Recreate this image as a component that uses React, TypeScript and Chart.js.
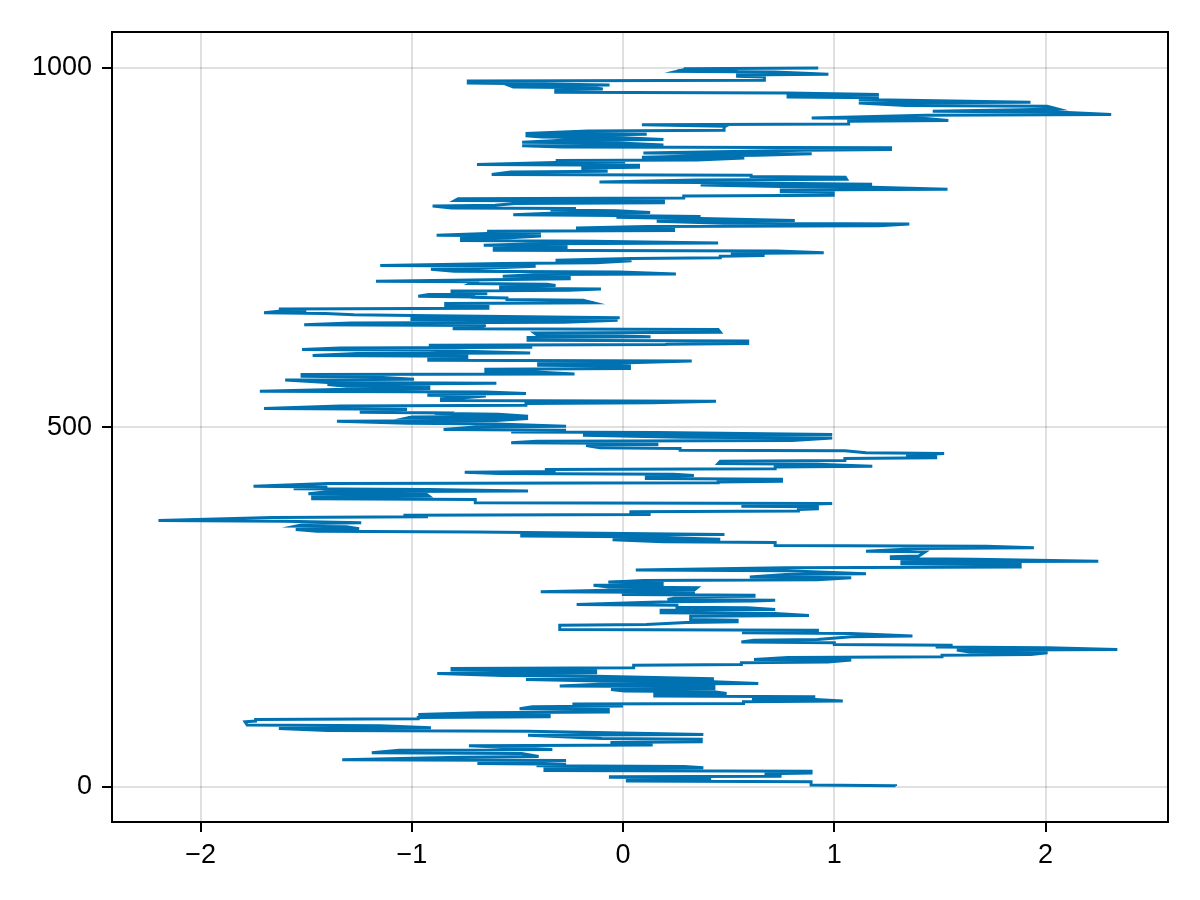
import React, { useEffect, useRef } from "react";
import { Chart, registerables } from "chart.js";

Chart.register(...registerables);

const xTickValues = [-2, -1, 0, 1, 2];
const yTickValues = [0, 500, 1000];
const xLimits = [-2.42, 2.58];
const yLimits = [-49, 1050];
const lineColor = "#0072B2";

// first point of the walk: [step, value]
const walkStart = [1, 1.29];

// horizontal strokes of the walk: [step, one end, other end]
const walkStrokes0to250 = [
  [2, 1.29, 0.89], [7.4, 0.89, 0.02], [11.1, 0.02, 0.41], [12.9, -0.06, 0.41], [14.3, -0.06, 0.75],
  [18.5, 0.67, 0.89], [22.2, -0.37, 0.89], [25.9, -0.37, 0.38], [28.7, -0.41, 0.29], [32, -0.69, -0.27],
  [37, -1.33, -0.27], [41.7, -0.77, -0.4], [46.8, -1.19, -0.48], [51.4, -1.06, -0.335], [57.5, -0.73, 0.14],
  [62, -0.06, 0.37], [66.7, -0.1, 0.37], [72.3, -0.45, 0.38], [77.9, -1.4, -0.45], [81.6, -1.63, -0.91],
  [85.3, -1.78, -1.15], [90.9, -1.79, -1.74], [94.2, -1.74, -0.97], [96.9, -0.97, -0.35], [100.2, -0.97, -0.35],
  [103.4, -0.685, -0.07], [108.1, -0.49, -0.07], [111.8, -0.43, 0.0], [115.5, -0.24, 0.57], [118.7, 0.57, 1.04],
  [122, 0.61, 0.91], [125.7, 0.15, 0.91], [129.4, 0.15, 0.49], [132.6, 0.006, 0.43], [135.9, -0.057, 0.43],
  [139.6, -0.3, 0.43], [143.3, -0.11, 0.64], [146.5, -0.11, 0.43], [149.8, -0.46, 0.43], [154.4, -0.57, -0.13],
  [158.1, -0.88, -0.13], [161.8, -0.81, -0.13], [165.1, -0.81, 0.05], [169.7, 0.05, 0.56], [173, 0.56, 0.97],
  [176.7, 0.62, 1.08], [180.4, 0.78, 1.51], [183.6, 1.51, 1.93], [186.9, 1.64, 2.01], [190.6, 1.58, 2.34],
  [193.8, 1.48, 2.01], [197.5, 1.0, 1.56], [200.8, 0.56, 1.0], [204.5, 0.62, 0.92], [209.1, 1.08, 1.37],
  [213.8, 0.57, 1.08], [217, 0.57, 0.92], [218.4, -0.3, 0.92], [225.3, -0.3, 0.11], [229, 0.3, 0.54],
  [232.3, 0.32, 0.54], [237.8, 0.32, 0.88], [241.6, 0.18, 0.72], [246.2, 0.18, 0.72], [249.4, 0.255, 0.59],
];

const walkStrokes250to500 = [
  [253.1, -0.22, 0.255], [257.8, 0.21, 0.62], [260.1, 0.21, 0.72], [264.7, 0.28, 0.62], [267, -0.006, 0.62],
  [270.8, -0.39, 0.34], [274, -0.07, 0.34], [277.3, -0.07, 0.35], [281, -0.14, 0.185], [284.2, -0.07, 0.185],
  [287.4, 0.096, 0.92], [291.2, 0.6, 1.08], [295.8, 0.77, 1.15], [300.9, 0.06, 0.77], [305.1, 0.77, 1.88],
  [309.7, 1.32, 1.88], [313.4, 1.32, 2.25], [317.1, 1.27, 1.66], [320.4, 1.27, 1.4], [327.3, 1.15, 1.43],
  [332, 1.4, 1.945], [335.2, 0.72, 1.72], [340.3, 0.19, 0.72], [344, -0.05, 0.46], [348.2, -0.48, 0.05],
  [350.5, -0.48, 0.48], [355.1, -1.45, -0.7], [358.4, -1.55, -1.25], [362.1, -1.55, -1.31], [366.7, -1.49, -1.24],
  [370, -2.2, -1.6], [375, -1.66, -0.924], [378.3, -1.04, 0.13], [383, 0.03, 0.83], [386.2, 0.83, 0.92],
  [389.9, 0.56, 0.92], [394.5, -0.7, 0.99], [400.1, -1.47, -0.7], [403.8, -1.47, -0.92], [407, -1.49, -0.93],
  [410.8, -1.4, -0.45], [414, -1.56, -0.92], [417.7, -1.75, -1.4], [422.3, -1.4, 0.45], [424.6, 0.45, 0.75],
  [428.4, 0.11, 0.75], [432.5, 0.11, 0.335], [435.3, -0.59, 0.24], [438.1, -0.75, -0.32], [441.8, -0.37, 0.72],
  [445.5, 0.72, 1.18], [449.2, 0.45, 0.92], [453.4, 0.46, 1.05], [457.1, 1.05, 1.48], [460.3, 1.34, 1.48],
  [464.1, 1.15, 1.52], [467.8, 0.27, 1.05], [471, -0.11, 0.27], [475.2, -0.175, 0.16], [478, -0.53, 0.16],
  [481.2, -0.41, 0.8], [485.8, 0.28, 0.99], [489.5, -0.19, 0.99], [493.2, -0.53, 0.16], [496.5, -0.85, -0.27],
];

const walkStrokes500to750 = [
  [501.1, -0.7, -0.27], [505.3, -1.02, -0.6], [509, -1.355, -0.6], [512.7, -1.02, -0.45], [515, -1.0, -0.45],
  [518.7, -0.85, -0.59], [520.6, -1.24, -0.84], [524.3, -1.24, -1.03], [525.7, -1.7, -1.03], [530.3, -1.34, -0.46],
  [533.6, -0.46, 0.14], [536.8, -0.86, 0.44], [540.5, -0.86, -0.77], [544.2, -0.92, -0.65], [546.6, -0.92, -0.46],
  [549.8, -1.72, -0.65], [553.5, -1.31, -0.92], [556.7, -1.31, -0.92], [560, -1.4, -0.92], [561.9, -1.4, -0.6],
  [566.5, -1.6, -0.99], [570.7, -1.52, -1.18], [573.9, -1.52, -0.23], [577.6, -0.65, -0.41], [581.3, -0.65, 0.03],
  [586, -0.4, 0.03], [589.2, -0.4, -0.016], [592.9, -0.92, 0.325], [596.2, -0.92, -0.74], [599.4, -1.47, -0.74],
  [603.1, -1.26, -0.44], [607.7, -1.52, -0.92], [611, -1.34, -0.43], [614.7, -0.92, 0.2], [616.2, 0.21, 0.59],
  [620.8, -0.45, 0.59], [625.4, -0.45, 0.13], [628.7, -0.41, -0.175], [631.9, -0.42, 0.46], [636.6, -0.8, 0.45],
  [640.3, -0.8, -0.67], [642.1, -1.51, -0.65], [645.8, -1.29, -0.28], [649.5, -1.0, -0.026], [651.9, -1.0, -0.016],
  [656, -1.275, -1.0], [658.8, -1.7, -1.41], [662, -1.63, -1.5], [665.3, -1.63, -0.64], [669, -0.84, -0.64],
  [672.7, -0.84, -0.14], [677.4, -0.55, -0.19], [680.6, -0.72, -0.55], [682, -0.97, -0.7], [685.2, -0.92, -0.65],
  [688.5, -0.81, -0.65], [690.3, -0.81, -0.255], [693.1, -0.58, -0.105], [696.8, -0.58, -0.32], [699.6, -0.72, -0.36],
  [702.9, -1.17, -0.7], [706.1, -0.54, -0.255], [709.8, -0.57, -0.255], [713, -0.4, 0.25], [716.8, -0.8, -0.016],
  [720.5, -0.91, -0.685], [724.6, -1.15, -0.414], [728.4, -0.57, -0.128], [732.1, -0.32, 0.04], [735.3, 0.04, 0.46],
  [738.6, 0.46, 0.67], [742.3, 0.51, 0.95], [746, -0.61, 0.73], [749.2, -0.61, -0.27],
];

const walkStrokes750to1000 = [
  [752.9, -0.66, -0.27], [756.1, -0.405, 0.45], [759.4, -0.765, -0.143], [763.1, -0.765, -0.536], [766.8, -0.883, -0.389],
  [770.1, -0.644, -0.389], [773.3, -0.644, 0.239], [777, -0.223, 0.239], [779.8, 0.112, 1.211], [783.5, 0.478, 1.355],
  [787.2, 0.159, 0.813], [790.9, 0.159, 0.367], [792.8, -0.032, 0.367], [795.1, -0.52, -0.032], [798.3, -0.344, 0.128],
  [802, -0.344, -0.032], [804.8, -0.813, -0.223], [808.5, -0.902, -0.606], [811.8, -0.51, 0.191], [815, -0.797, 0.191],
  [818.7, -0.781, 0.287], [822.4, 0.287, 0.995], [827.1, 0.749, 0.995], [830.8, 0.749, 1.536], [834.5, 0.749, 1.179],
  [837.7, 0.367, 1.179], [841, -0.112, 0.367], [844.7, 0.351, 1.058], [848.4, 0.606, 1.052], [851.2, -0.622, 0.606],
  [855.8, -0.532, -0.08], [859.1, -0.191, -0.08], [861.4, -0.191, 0.073], [865.1, -0.692, 0.073], [868.8, -0.319, 0.01],
  [871.6, -0.319, 0.351], [875.3, 0.089, 0.574], [878.1, 0.351, 0.638], [881.3, 0.096, 0.893], [885.9, 0.861, 1.266],
  [889.6, -0.287, 1.266], [892.4, -0.478, 0.191], [896.1, -0.478, -0.016], [899.8, -0.287, 0.191], [903.5, -0.383, 0.0],
  [906.3, -0.462, -0.128], [908.2, -0.462, 0.112], [912.8, -0.166, 0.478], [918.4, 0.478, 0.485], [921.6, 0.089, 1.068],
  [926.3, 1.068, 1.54], [930, 0.893, 1.434], [934.6, 1.434, 2.311], [939.2, 1.466, 2.056], [942.5, 1.881, 2.056],
  [947.1, 1.339, 2.008], [951.8, 1.116, 1.929], [955.5, 1.116, 1.339], [959.2, 0.781, 1.211], [962.4, 0.781, 1.211],
  [965.7, -0.319, 0.781], [970.3, -0.319, -0.096], [973.1, -0.52, -0.143], [975.9, -0.536, -0.064], [978.6, -0.733, -0.446],
  [982.4, -0.733, 0.669], [987.9, 0.542, 0.669], [990.7, 0.542, 0.972], [994.9, 0.255, 0.717], [998.1, 0.287, 0.542],
  [999.4, 0.287, 0.924],
];

function buildPath() {
  const strokes = [
    ...walkStrokes0to250,
    ...walkStrokes250to500,
    ...walkStrokes500to750,
    ...walkStrokes750to1000,
  ];
  const pts: { x: number; y: number }[] = [{ x: walkStart[1], y: walkStart[0] }];
  let prev = walkStart[1];
  for (const [y, a, b] of strokes) {
    const near = Math.abs(prev - a) <= Math.abs(prev - b) ? a : b;
    const far = near === a ? b : a;
    pts.push({ x: near, y: y - 0.5 });
    pts.push({ x: far, y: y + 0.5 });
    prev = far;
  }
  return pts;
}

const fmt = (v: number) => (v < 0 ? "\u2212" + Math.abs(v) : String(v));

const framePlugin = {
  id: "frame",
  afterDraw(chart: any) {
    const { ctx, chartArea } = chart;
    ctx.save();
    ctx.strokeStyle = "#000";
    ctx.lineWidth = 2;
    ctx.strokeRect(chartArea.left, chartArea.top, chartArea.right - chartArea.left, chartArea.bottom - chartArea.top);
    ctx.restore();
  },
};

export default function App() {
  const ref = useRef<HTMLCanvasElement | null>(null);
  useEffect(() => {
    if (!ref.current) return;
    const font = { family: "'Liberation Sans', Arial, Helvetica, sans-serif", size: 27 };
    const chart = new Chart(ref.current, {
      type: "scatter",
      data: {
        datasets: [
          {
            data: buildPath(),
            showLine: true,
            borderColor: lineColor,
            backgroundColor: lineColor,
            borderWidth: 3,
            pointRadius: 0,
            pointHoverRadius: 0,
            tension: 0,
          },
        ],
      },
      options: {
        animation: false,
        responsive: false,
        devicePixelRatio: 1,
        layout: { padding: { top: 32, right: 32, left: 0, bottom: 0 } },
        plugins: { legend: { display: false }, tooltip: { enabled: false } },
        scales: {
          x: {
            type: "linear",
            min: xLimits[0],
            max: xLimits[1],
            afterBuildTicks: (s: any) => {
              s.ticks = xTickValues.map((v) => ({ value: v }));
            },
            afterFit: (s: any) => {
              s.height = 78;
            },
            grid: {
              color: "rgba(0,0,0,0.12)",
              lineWidth: 2,
              drawTicks: true,
              tickLength: 10,
              tickColor: "#000",
              tickWidth: 2,
            },
            border: { display: true, color: "#000", width: 2 },
            ticks: {
              color: "#000",
              font,
              padding: 7,
              maxRotation: 0,
              callback: (v: any) => fmt(Number(v)),
            },
          },
          y: {
            type: "linear",
            min: yLimits[0],
            max: yLimits[1],
            afterBuildTicks: (s: any) => {
              s.ticks = yTickValues.map((v) => ({ value: v }));
            },
            afterFit: (s: any) => {
              s.width = 112;
            },
            grid: {
              color: "rgba(0,0,0,0.12)",
              lineWidth: 2,
              drawTicks: true,
              tickLength: 10,
              tickColor: "#000",
              tickWidth: 2,
            },
            border: { display: true, color: "#000", width: 2 },
            ticks: {
              color: "#000",
              font,
              padding: 10,
              callback: (v: any) => fmt(Number(v)),
            },
          },
        },
      },
      plugins: [framePlugin],
    });
    return () => chart.destroy();
  }, []);
  return (
    <div style={{ position: "absolute", left: 0, top: 0, width: 1200, height: 900, background: "#fff" }}>
      <canvas ref={ref} width={1200} height={900} style={{ width: 1200, height: 900 }} />
    </div>
  );
}
